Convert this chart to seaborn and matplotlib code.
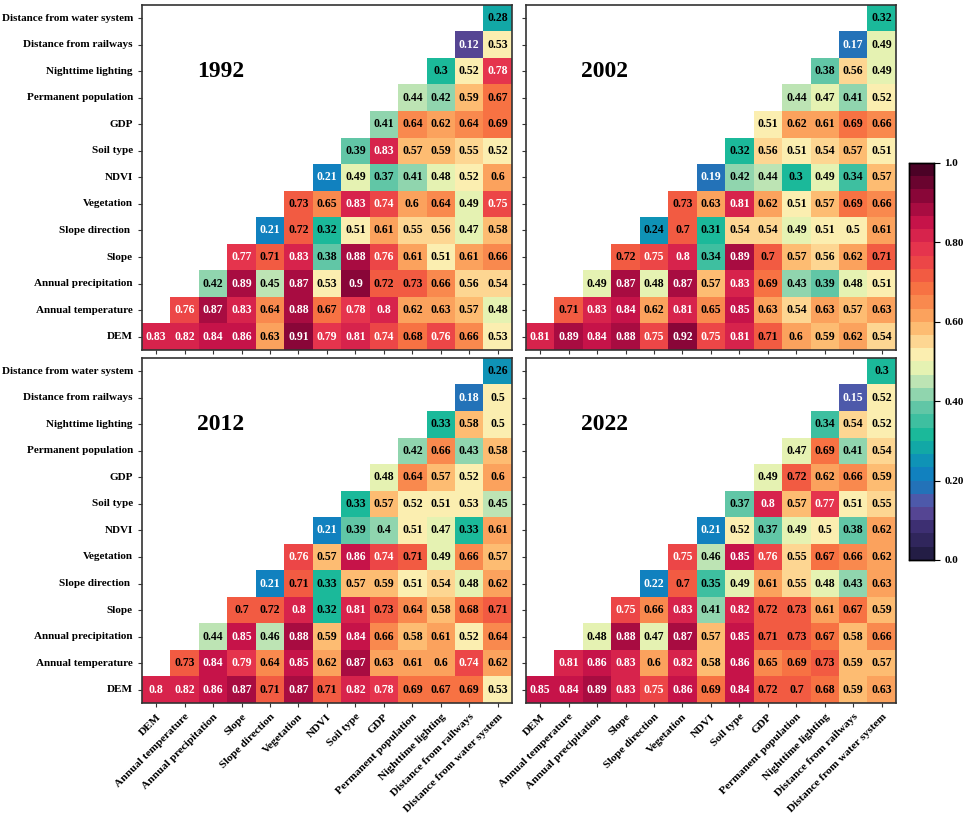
import numpy as np
import pandas as pd
import seaborn as sns
import matplotlib.pyplot as plt
from matplotlib.colors import LinearSegmentedColormap

plt.rcParams['font.family'] = ['Liberation Serif', 'DejaVu Serif']
plt.rcParams['font.weight'] = 'bold'

factors = ["DEM", "Annual temperature", "Annual precipitation", "Slope", "Slope direction",
           "Vegetation", "NDVI", "Soil type", "GDP", "Permanent population",
           "Nighttime lighting", "Distance from railways", "Distance from water system"]
ylabels = ["DEM", "Annual temperature", "Annual precipitation", "Slope", "Slope direction ",
           "Vegetation", "NDVI", "Soil type", "GDP", "Permanent population",
           "Nighttime lighting", "Distance from railways", "Distance from water system"]

# each row starts at the diagonal (row factor x itself), DEM first
q1992 = [
    [0.83, 0.82, 0.84, 0.86, 0.63, 0.91, 0.79, 0.81, 0.74, 0.68, 0.76, 0.66, 0.53],
    [0.76, 0.87, 0.83, 0.64, 0.88, 0.67, 0.78, 0.8, 0.62, 0.63, 0.57, 0.48],
    [0.42, 0.89, 0.45, 0.87, 0.53, 0.9, 0.72, 0.73, 0.66, 0.56, 0.54],
    [0.77, 0.71, 0.83, 0.38, 0.88, 0.76, 0.61, 0.51, 0.61, 0.66],
    [0.21, 0.72, 0.32, 0.51, 0.61, 0.55, 0.56, 0.47, 0.58],
    [0.73, 0.65, 0.83, 0.74, 0.6, 0.64, 0.49, 0.75],
    [0.21, 0.49, 0.37, 0.41, 0.48, 0.52, 0.6],
    [0.39, 0.83, 0.57, 0.59, 0.55, 0.52],
    [0.41, 0.64, 0.62, 0.64, 0.69],
    [0.44, 0.42, 0.59, 0.67],
    [0.3, 0.52, 0.78],
    [0.12, 0.53],
    [0.28],
]
q2002 = [
    [0.81, 0.89, 0.84, 0.88, 0.75, 0.92, 0.75, 0.81, 0.71, 0.6, 0.59, 0.62, 0.54],
    [0.71, 0.83, 0.84, 0.62, 0.81, 0.65, 0.85, 0.63, 0.54, 0.63, 0.57, 0.63],
    [0.49, 0.87, 0.48, 0.87, 0.57, 0.83, 0.69, 0.43, 0.39, 0.48, 0.51],
    [0.72, 0.75, 0.8, 0.34, 0.89, 0.7, 0.57, 0.56, 0.62, 0.71],
    [0.24, 0.7, 0.31, 0.54, 0.54, 0.49, 0.51, 0.5, 0.61],
    [0.73, 0.63, 0.81, 0.62, 0.51, 0.57, 0.69, 0.66],
    [0.19, 0.42, 0.44, 0.3, 0.49, 0.34, 0.57],
    [0.32, 0.56, 0.51, 0.54, 0.57, 0.51],
    [0.51, 0.62, 0.61, 0.69, 0.66],
    [0.44, 0.47, 0.41, 0.52],
    [0.38, 0.56, 0.49],
    [0.17, 0.49],
    [0.32],
]
q2012 = [
    [0.8, 0.82, 0.86, 0.87, 0.71, 0.87, 0.71, 0.82, 0.78, 0.69, 0.67, 0.69, 0.53],
    [0.73, 0.84, 0.79, 0.64, 0.85, 0.62, 0.87, 0.63, 0.61, 0.6, 0.74, 0.62],
    [0.44, 0.85, 0.46, 0.88, 0.59, 0.84, 0.66, 0.58, 0.61, 0.52, 0.64],
    [0.7, 0.72, 0.8, 0.32, 0.81, 0.73, 0.64, 0.58, 0.68, 0.71],
    [0.21, 0.71, 0.33, 0.57, 0.59, 0.51, 0.54, 0.48, 0.62],
    [0.76, 0.57, 0.86, 0.74, 0.71, 0.49, 0.66, 0.57],
    [0.21, 0.39, 0.4, 0.51, 0.47, 0.33, 0.61],
    [0.33, 0.57, 0.52, 0.51, 0.53, 0.45],
    [0.48, 0.64, 0.57, 0.52, 0.6],
    [0.42, 0.66, 0.43, 0.58],
    [0.33, 0.58, 0.5],
    [0.18, 0.5],
    [0.26],
]
q2022 = [
    [0.85, 0.84, 0.89, 0.83, 0.75, 0.86, 0.69, 0.84, 0.72, 0.7, 0.68, 0.59, 0.63],
    [0.81, 0.86, 0.83, 0.6, 0.82, 0.58, 0.86, 0.65, 0.69, 0.73, 0.59, 0.57],
    [0.48, 0.88, 0.47, 0.87, 0.57, 0.85, 0.71, 0.73, 0.67, 0.58, 0.66],
    [0.75, 0.66, 0.83, 0.41, 0.82, 0.72, 0.73, 0.61, 0.67, 0.59],
    [0.22, 0.7, 0.35, 0.49, 0.61, 0.55, 0.48, 0.43, 0.63],
    [0.75, 0.46, 0.85, 0.76, 0.55, 0.67, 0.66, 0.62],
    [0.21, 0.52, 0.37, 0.49, 0.5, 0.38, 0.62],
    [0.37, 0.8, 0.57, 0.77, 0.51, 0.55],
    [0.49, 0.72, 0.62, 0.66, 0.59],
    [0.47, 0.69, 0.41, 0.54],
    [0.34, 0.54, 0.52],
    [0.15, 0.52],
    [0.3],
]
years = ["1992", "2002", "2012", "2022"]
tables = [q1992, q2002, q2012, q2022]

anchors = [(0.00, "#231d45"), (0.07, "#3d2f73"), (0.12, "#6150a3"), (0.15, "#3f5fae"),
           (0.18, "#1a78bc"), (0.22, "#0d86c0"), (0.27, "#11a5a8"), (0.31, "#1bb99a"),
           (0.38, "#62c6a6"), (0.44, "#b3e0b4"), (0.48, "#e3f2b2"), (0.52, "#fdeeb0"),
           (0.56, "#fdd08a"), (0.60, "#fdb166"), (0.65, "#f98d50"), (0.70, "#f66b40"),
           (0.75, "#ee4a45"), (0.80, "#e3304e"), (0.86, "#c8134a"), (0.92, "#93073b"),
           (1.00, "#4b0226")]
cmap = LinearSegmentedColormap.from_list("geo", anchors).resampled(30)


def to_frame(rows):
    n = len(factors)
    m = np.full((n, n), np.nan)
    for i, r in enumerate(rows):
        m[i, i:] = r
    # flip so that DEM is at the bottom
    return pd.DataFrame(m[::-1], index=ylabels[::-1], columns=factors)


fig = plt.figure(figsize=(9.69, 8.15), dpi=100)
W, H = 0.3818, 0.4235
pos = [(0.1465, 0.5706), (0.5428, 0.5706), (0.1465, 0.1374), (0.5428, 0.1374)]
cax = fig.add_axes([0.938, 0.313, 0.026, 0.487])

for k, (year, rows) in enumerate(zip(years, tables)):
    ax = fig.add_axes([pos[k][0], pos[k][1], W, H])
    df = to_frame(rows)
    labels = df.map(lambda v: "" if np.isnan(v) else f"{v:g}")
    sns.heatmap(df, ax=ax, cmap=cmap, vmin=0, vmax=1, annot=labels, fmt="",
                annot_kws={"fontsize": 8.5, "fontweight": "bold"},
                cbar=(k == 0), cbar_ax=cax if k == 0 else None)
    for t in ax.texts:
        v = float(t.get_text())
        t.set_color("white" if (v >= 0.735 or v <= 0.225) else "black")
    for s in ax.spines.values():
        s.set_visible(True)
        s.set_color("#333333")
        s.set_linewidth(1.2)
    ax.tick_params(length=3, width=0.8, color="#333333", labelsize=8)
    ax.set_xlabel("")
    ax.set_ylabel("")
    if k >= 2:
        ax.set_xticklabels(factors, rotation=45, ha="right", rotation_mode="anchor",
                           fontweight="bold", fontsize=8.2)
    else:
        ax.set_xticklabels([])
    if k % 2 == 0:
        ax.set_yticklabels(ylabels[::-1], rotation=0, fontweight="bold", fontsize=8)
    else:
        ax.set_yticklabels([])
    ax.text(0.2135, 0.806, year, transform=ax.transAxes, ha="center", va="center",
            fontsize=17, fontweight="bold")

cax.set_yticks([0, 0.2, 0.4, 0.6, 0.8, 1.0])
cax.set_yticklabels(["0.0", "0.20", "0.40", "0.60", "0.80", "1.0"], fontweight="bold", fontsize=8)
cax.tick_params(length=4, width=0.8)
for s in cax.spines.values():
    s.set_visible(True)
    s.set_linewidth(1.0)

fig.savefig("out.png", dpi=100)
